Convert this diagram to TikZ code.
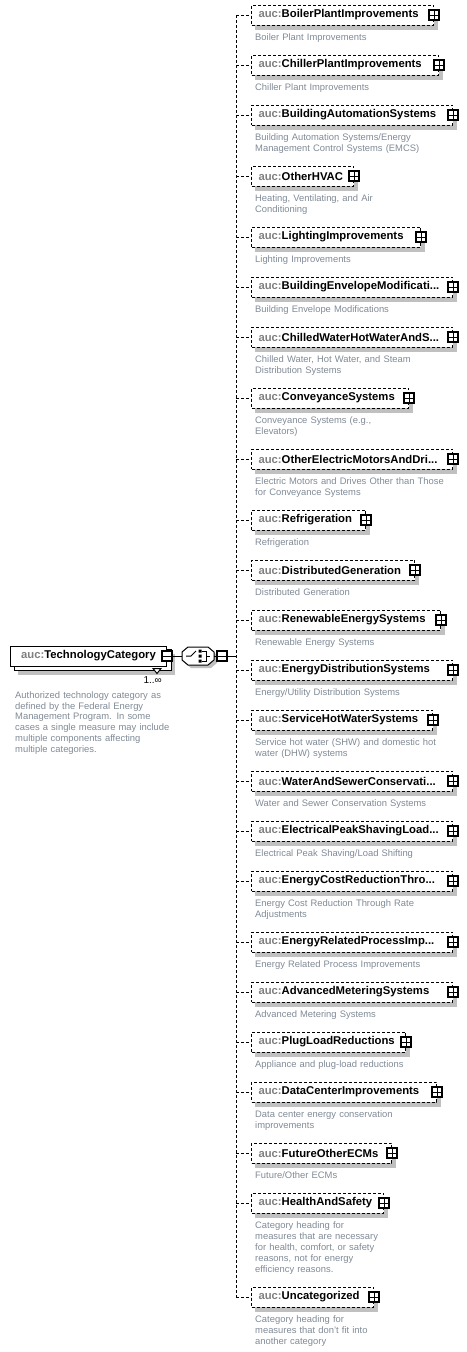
\documentclass[tikz,border=0pt]{standalone}
\usepackage{fontspec}
\setmainfont{Liberation Sans}
\usetikzlibrary{positioning}

\definecolor{aucgray}{RGB}{128,128,128}
\definecolor{descgray}{RGB}{128,138,150}
\definecolor{shadowgray}{RGB}{192,192,192}

\pgfdeclarelayer{background}
\pgfdeclarelayer{behind}
\pgfsetlayers{background,behind,main}

\newcommand{\auc}[1]{{\color{aucgray}auc:}#1}

% Kind-Element: Name, y, Textbreite, Beschriftung, Beschreibung
\newcommand{\childelem}[5]{%
  \node[elem, text width=#3pt] (#1) at (251,#2) {\auc{#4}};
  \begin{pgfonlayer}{background}
    \fill[shadowfill] ([xshift=4pt,yshift=-4pt]#1.south west) rectangle ([xshift=4pt,yshift=-4pt]#1.north east);
  \end{pgfonlayer}
  \node[plusbox] (#1plus) at (#1.east) {};
  \node[desc] (#1desc) at ([xshift=4pt,yshift=-15pt]#1.south west) {#5};
  \draw[branch] (bus |- #1.west) -- (#1.west);
}

\begin{document}
\begin{tikzpicture}[
    x=1pt, y=-1pt,
    elem/.style={draw, dash pattern=on 3pt off 2pt, line width=1pt, fill=white, anchor=west, align=left,
      minimum height=20pt, inner xsep=7pt, inner ysep=0pt, font=\fontsize{11.3}{13}\selectfont\bfseries}, % Stil der Kind-Elemente
    rootelem/.style={draw, line width=1pt, fill=white, anchor=west, minimum width=156pt, minimum height=20pt,
      inner xsep=8pt, font=\fontsize{11.3}{13}\selectfont\bfseries}, % Stil des Wurzel-Elements
    shadowfill/.style={fill=shadowgray},
    plusbox/.style={draw, line width=1.6pt, fill=white, minimum size=9.5pt, inner sep=0pt,
      path picture={\draw[line width=1pt] (path picture bounding box.west) -- (path picture bounding box.east)
        (path picture bounding box.north) -- (path picture bounding box.south);}},
    minusbox/.style={draw, line width=1.6pt, fill=white, minimum size=9.5pt, inner sep=0pt,
      path picture={\draw[line width=1pt] (path picture bounding box.west) -- (path picture bounding box.east);}},
    choicebox/.style={minimum width=32pt, minimum height=18pt, inner sep=0pt, outer sep=0pt}, % Choice-Kompositor
    desc/.style={anchor=base west, inner sep=0pt, text width=210pt, align=left, text=descgray,
      font=\fontsize{9.4}{11}\selectfont}, % Stil der Beschreibungen
    link/.style={line width=1pt},
    branch/.style={line width=1pt, dash pattern=on 3pt off 2pt}
]
\useasboundingbox (0,0) rectangle (466,1352);

% Wurzel-Element
\node[rootelem] (techcat) at (10,656) {\auc{TechnologyCategory}};
\begin{pgfonlayer}{background}
  \fill[shadowfill] ([xshift=8pt,yshift=-8pt]techcat.south west) rectangle ([xshift=8pt,yshift=-8pt]techcat.north east);
\end{pgfonlayer}
\begin{pgfonlayer}{behind}
  \draw[line width=1pt, fill=white] ([xshift=4pt,yshift=-4pt]techcat.south west) rectangle ([xshift=4pt,yshift=-4pt]techcat.north east);
\end{pgfonlayer}
\draw[line width=1pt, fill=white] ([xshift=-14pt,yshift=-2pt]techcat.south east) -- ++(8,0) -- ++(-4,5) -- cycle;
\node[minusbox] (techmin) at (techcat.east) {};
\node[anchor=base east, inner sep=0pt, font=\fontsize{10}{12}\selectfont] (techcatocc)
  at ([xshift=-5pt,yshift=-17pt]techcat.south east) {1..∞};
\node[desc, font=\fontsize{9.4}{10.7}\selectfont] (techcatdesc) at ([xshift=5pt,yshift=-32pt]techcat.south west)
  {Authorized technology category as\\defined by the Federal Energy\\Management Program. In some\\cases a single measure may include\\multiple components affecting\\multiple categories.};

% Choice-Kompositor
\node[choicebox] (choice) at (198,656) {};
\fill[shadowfill] ([shift={(9pt,-3pt)}]choice.north west) -- ([shift={(-3pt,-3pt)}]choice.north east)
  -- ([shift={(3pt,-8pt)}]choice.north east) -- ([shift={(3pt,2pt)}]choice.south east)
  -- ([shift={(-3pt,-3pt)}]choice.south east) -- ([shift={(9pt,-3pt)}]choice.south west)
  -- ([shift={(3pt,2pt)}]choice.south west) -- ([shift={(3pt,-8pt)}]choice.north west) -- cycle;
\draw[line width=1pt, fill=white] ([xshift=6pt]choice.north west) -- ([xshift=-6pt]choice.north east)
  -- ([yshift=-5pt]choice.north east) -- ([yshift=5pt]choice.south east)
  -- ([xshift=-6pt]choice.south east) -- ([xshift=6pt]choice.south west)
  -- ([yshift=5pt]choice.south west) -- ([yshift=-5pt]choice.north west) -- cycle;
\begin{scope}[shift={(choice.center)}, line width=1pt]
  \draw (-12,0) -- (-7,0) -- (-2,-5);
  \fill (0.5,-6.5) rectangle +(3,3) (0.5,-1.5) rectangle +(3,3) (0.5,3.5) rectangle +(3,3);
  \draw (4,-5) -- (8,-5) -- (8,5) -- (4,5) (8,0) -- (12,0);
\end{scope}
\node[minusbox] (choicemin) at (222,656) {};
\coordinate (bus) at (236,656);

% Verbindungslinien
\draw[link] (techmin.east) -- (choice.west);
\draw[link] (choice.east) -- (choicemin.west);
\draw[link] (choicemin.east) -- (bus);

% Kind-Elemente
\childelem{boiler}{15}{168}{BoilerPlantImprovements}{Boiler Plant Improvements}
\childelem{chiller}{65}{173}{ChillerPlantImprovements}{Chiller Plant Improvements}
\childelem{bas}{115}{187}{BuildingAutomationSystems}{Building Automation Systems/Energy\\Management Control Systems (EMCS)}
\childelem{hvac}{176}{88}{OtherHVAC}{Heating, Ventilating, and Air\\Conditioning}
\childelem{lighting}{237}{155}{LightingImprovements}{Lighting Improvements}
\childelem{envelope}{287}{187}{BuildingEnvelopeModificati...}{Building Envelope Modifications}
\childelem{chilledwater}{337}{187}{ChilledWaterHotWaterAndS...}{Chilled Water, Hot Water, and Steam\\Distribution Systems}
\childelem{conveyance}{398}{143}{ConveyanceSystems}{Conveyance Systems (e.g.,\\Elevators)}
\childelem{motors}{459}{187}{OtherElectricMotorsAndDri...}{Electric Motors and Drives Other than Those\\for Conveyance Systems}
\childelem{refrig}{520}{100}{Refrigeration}{Refrigeration}
\childelem{distgen}{570}{149}{DistributedGeneration}{Distributed Generation}
\childelem{renewable}{620}{175}{RenewableEnergySystems}{Renewable Energy Systems}
\childelem{energydist}{670}{187}{EnergyDistributionSystems}{Energy/Utility Distribution Systems}
\childelem{shw}{720}{167}{ServiceHotWaterSystems}{Service hot water (SHW) and domestic hot\\water (DHW) systems}
\childelem{watersewer}{781}{187}{WaterAndSewerConservati...}{Water and Sewer Conservation Systems}
\childelem{peakshaving}{831}{187}{ElectricalPeakShavingLoad...}{Electrical Peak Shaving/Load Shifting}
\childelem{costreduction}{881}{187}{EnergyCostReductionThro...}{Energy Cost Reduction Through Rate\\Adjustments}
\childelem{process}{942}{187}{EnergyRelatedProcessImp...}{Energy Related Process Improvements}
\childelem{metering}{992}{187}{AdvancedMeteringSystems}{Advanced Metering Systems}
\childelem{plugload}{1042}{140}{PlugLoadReductions}{Appliance and plug-load reductions}
\childelem{datacenter}{1092}{171}{DataCenterImprovements}{Data center energy conservation\\improvements}
\childelem{futureecm}{1153}{126}{FutureOtherECMs}{Future/Other ECMs}
\childelem{safety}{1203}{118}{HealthAndSafety}{Category heading for\\measures that are necessary\\for health, comfort, or safety\\reasons, not for energy\\efficiency reasons.}
\childelem{uncat}{1297}{108}{Uncategorized}{Category heading for\\measures that don't fit into\\another category}

% Sammelleitung
\draw[branch] (bus |- boiler.west) -- (bus |- uncat.west);

\end{tikzpicture}
\end{document}
